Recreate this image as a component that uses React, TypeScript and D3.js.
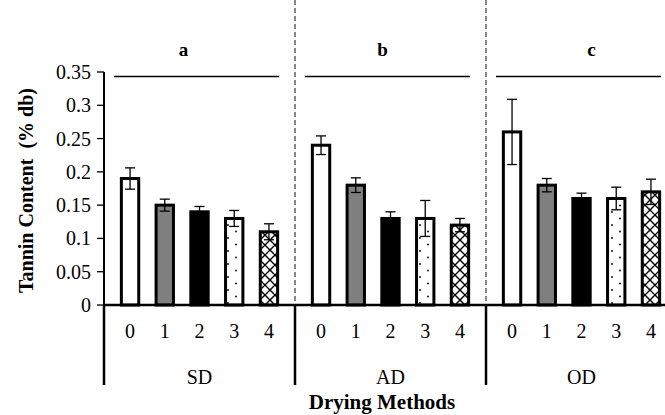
import React from "react";
import * as d3 from "d3";

const groups = ["SD", "AD", "OD"];
const levels = ["0", "1", "2", "3", "4"];
const letters = ["a", "b", "c"];
const sdValues = [0.19, 0.15, 0.14, 0.13, 0.11];
const sdErrors = [0.016, 0.009, 0.008, 0.012, 0.012];
const adValues = [0.24, 0.18, 0.13, 0.13, 0.12];
const adErrors = [0.014, 0.011, 0.01, 0.027, 0.01];
const odValues = [0.26, 0.18, 0.16, 0.16, 0.17];
const odErrors = [0.049, 0.01, 0.008, 0.017, 0.019];
const yTicks = [0, 0.05, 0.1, 0.15, 0.2, 0.25, 0.3, 0.35];
const yTickLabels = ["0", "0.05", "0.1", "0.15", "0.2", "0.25", "0.3", "0.35"];

const values = [sdValues, adValues, odValues];
const errors = [sdErrors, adErrors, odErrors];
const fills = ["#ffffff", "#7f7f7f", "#000000", "url(#dots)", "url(#hatch)"];
const letterOffsets = [-16, -8, 10];

const W = 665;
const H = 415;
const x0 = 104;
const step = 38.2;
const y0 = 305;
const yTop = 72;

export default function App() {
  const outer = d3.scaleBand<string>().domain(groups).range([x0, x0 + step * 15]).padding(0);
  const inner = d3.scaleBand<string>().domain(levels).range([0, outer.bandwidth()]).padding(0.5);
  const y = d3.scaleLinear().domain([0, 0.35]).range([y0, yTop]);
  const font = "'Liberation Serif', 'Times New Roman', serif";

  return (
    <svg width={W} height={H} style={{ position: "absolute", left: 0, top: 0, background: "#fff" }}>
      <defs>
        <pattern id="dots" width="16" height="13" patternUnits="userSpaceOnUse">
          <rect width="16" height="13" fill="#fff" />
          <circle cx="4" cy="4" r="0.9" fill="#000" />
          <circle cx="12" cy="10.5" r="0.9" fill="#000" />
        </pattern>
        <pattern id="hatch" width="10" height="10" patternUnits="userSpaceOnUse">
          <rect width="10" height="10" fill="#fff" />
          <path d="M0,0 L10,10 M10,0 L0,10" stroke="#000" strokeWidth="1.4" />
        </pattern>
        <clipPath id="clipW">
          <rect x="0" y="0" width={W} height={H} />
        </clipPath>
      </defs>
      <g clipPath="url(#clipW)" fontFamily={font}>
        {groups.slice(1).map((g) => (
          <line key={"ds" + g} x1={outer(g)!} x2={outer(g)!} y1={0} y2={y0}
            stroke="#888" strokeWidth={2} strokeDasharray="5,3" />
        ))}
        {groups.map((g, gi) =>
          levels.map((l, li) => {
            const v = values[gi][li];
            const e = errors[gi][li];
            const bx = outer(g)! + inner(l)!;
            const bw = inner.bandwidth();
            const cx = bx + bw / 2;
            return (
              <g key={g + l}>
                <rect x={bx} y={y(v)} width={bw} height={y0 - y(v)} fill={fills[li]} stroke="#000" strokeWidth={3} />
                <line x1={cx} x2={cx} y1={y(v + e)} y2={y(v - e)} stroke="#000" strokeWidth={1.3} />
                <line x1={cx - 5} x2={cx + 5} y1={y(v + e)} y2={y(v + e)} stroke="#000" strokeWidth={1.3} />
                <line x1={cx - 5} x2={cx + 5} y1={y(v - e)} y2={y(v - e)} stroke="#000" strokeWidth={1.3} />
              </g>
            );
          })
        )}
        {groups.map((g, gi) => (
          <g key={"sig" + g}>
            <line x1={outer(g)! + 10} x2={outer(g)! + outer.bandwidth() - 16} y1={76.5} y2={76.5} stroke="#000" strokeWidth={1.3} />
            <text x={outer(g)! + outer.bandwidth() / 2 + letterOffsets[gi]} y={56} fontSize={19} textAnchor="middle" fontWeight="bold">{letters[gi]}</text>
          </g>
        ))}
        <line x1={x0} x2={x0} y1={yTop} y2={y0} stroke="#000" strokeWidth={2} />
        {yTicks.map((t, i) => (
          <g key={"yt" + i}>
            <line x1={x0 - 7} x2={x0} y1={y(t)} y2={y(t)} stroke="#000" strokeWidth={1.3} />
            <text x={91} y={y(t)} dy="0.35em" fontSize={20} textAnchor="end">{yTickLabels[i]}</text>
          </g>
        ))}
        <line x1={x0} x2={x0 + step * 15} y1={y0} y2={y0} stroke="#000" strokeWidth={2.5} />
        {groups.map((g) => (
          <line key={"div" + g} x1={outer(g)!} x2={outer(g)!} y1={y0} y2={385} stroke="#000" strokeWidth={2.5} />
        ))}
        {groups.map((g) =>
          levels.map((l) => (
            <text key={"xl" + g + l} x={outer(g)! + inner(l)! + inner.bandwidth() / 2} y={338} fontSize={20} textAnchor="middle">{l}</text>
          ))
        )}
        {groups.map((g) => (
          <text key={"gl" + g} x={outer(g)! + outer.bandwidth() / 2} y={384} fontSize={20} textAnchor="middle">{g}</text>
        ))}
        <text x={382} y={409} fontSize={21} fontWeight="bold" textAnchor="middle">Drying Methods</text>
        <text transform={`translate(33,${(y0 + yTop) / 2 + 2}) rotate(-90)`} fontSize={20} fontWeight="bold" textAnchor="middle" xmlSpace="preserve">Tannin Content  (% db)</text>
      </g>
    </svg>
  );
}
